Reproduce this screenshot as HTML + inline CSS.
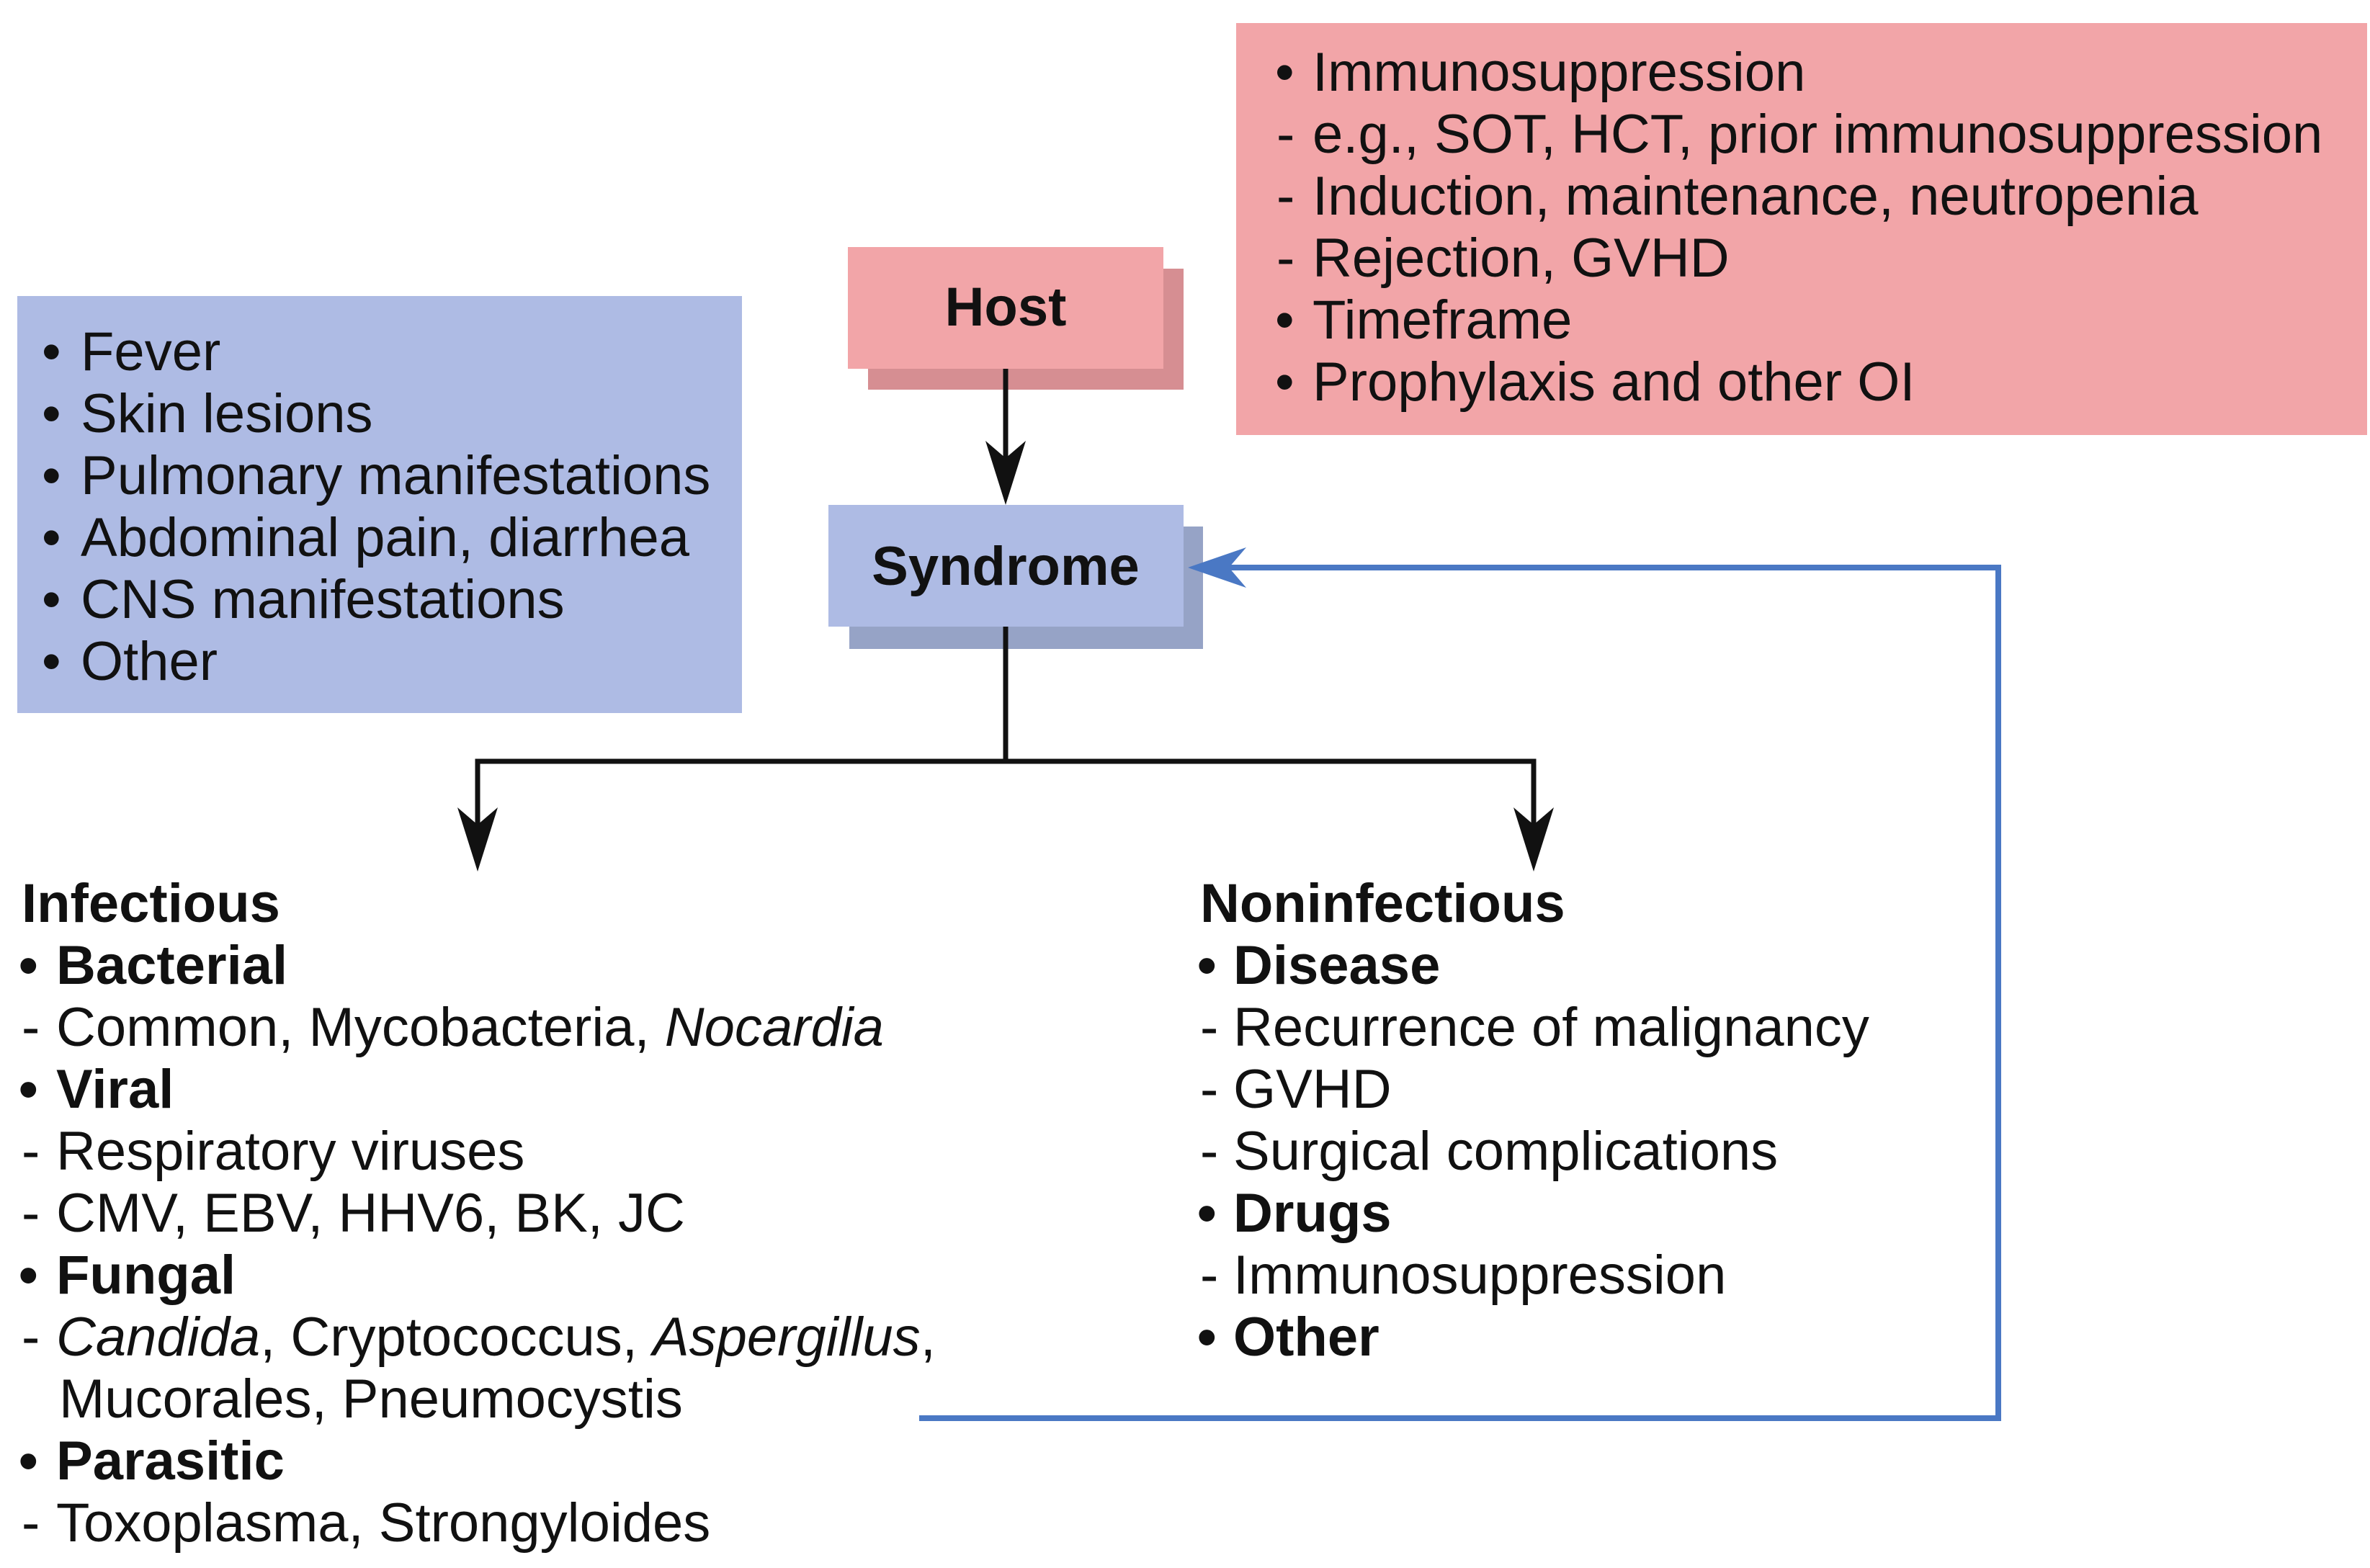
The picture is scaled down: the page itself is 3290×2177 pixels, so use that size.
<!DOCTYPE html>
<html><head><meta charset="utf-8"><style>
html,body{margin:0;padding:0;background:#fff;}
svg{display:block;}
text{font-family:"Liberation Sans",Arial,sans-serif;font-size:76px;fill:#111;}
.b{font-weight:bold;}
</style></head><body>
<svg width="3290" height="2177" viewBox="0 0 3290 2177" xmlns="http://www.w3.org/2000/svg">
<rect x="1716" y="32" width="1570" height="572" fill="#f2a5a8"/>
<rect x="24" y="411" width="1006" height="579" fill="#aebbe4"/>
<rect x="1205" y="373" width="438" height="168" fill="#d68e92"/>
<rect x="1177" y="343" width="438" height="169" fill="#f2a5a8"/>
<text x="1396" y="452" text-anchor="middle" class="b">Host</text>
<rect x="1179" y="731" width="491" height="170" fill="#96a3c6"/>
<rect x="1150" y="701" width="493" height="169" fill="#aebbe4"/>
<text x="1396" y="812" text-anchor="middle" class="b">Syndrome</text>

<g stroke="#111" stroke-width="7" fill="none">
<line x1="1396" y1="512" x2="1396" y2="640"/>
<line x1="1396" y1="870" x2="1396" y2="1057"/>
<polyline points="663,1147 663,1057 2129,1057 2129,1147"/>
</g>
<g fill="#111">
<path d="M1396,701 L1368,612 L1396,636 L1424,612 Z"/>
<path d="M663,1210 L635,1121 L663,1145 L691,1121 Z"/>
<path d="M2129,1210 L2101,1121 L2129,1145 L2157,1121 Z"/>
</g>
<polyline points="1276,1969 2774,1969 2774,788 1700,788" stroke="#4a78c4" stroke-width="8" fill="none"/>
<path d="M1649,788 L1730,760 L1706,788 L1730,816 Z" fill="#4a78c4"/>

<g>
<text x="58" y="514">•</text><text x="112" y="514">Fever</text>
<text x="58" y="600">•</text><text x="112" y="600">Skin lesions</text>
<text x="58" y="686">•</text><text x="112" y="686">Pulmonary manifestations</text>
<text x="58" y="772">•</text><text x="112" y="772">Abdominal pain, diarrhea</text>
<text x="58" y="858">•</text><text x="112" y="858">CNS manifestations</text>
<text x="58" y="944">•</text><text x="112" y="944">Other</text>
</g>
<g>
<text x="1770" y="126">•</text><text x="1822" y="126">Immunosuppression</text>
<text x="1772" y="212">-</text><text x="1822" y="212">e.g., SOT, HCT, prior immunosuppression</text>
<text x="1772" y="298">-</text><text x="1822" y="298">Induction, maintenance, neutropenia</text>
<text x="1772" y="384">-</text><text x="1822" y="384">Rejection, GVHD</text>
<text x="1770" y="470">•</text><text x="1822" y="470">Timeframe</text>
<text x="1770" y="556">•</text><text x="1822" y="556">Prophylaxis and other OI</text>
</g>
<g>
<text x="30" y="1280" class="b">Infectious</text>
<text x="26" y="1366" class="b">•</text><text x="78" y="1366" class="b">Bacterial</text>
<text x="30" y="1452">-</text><text x="78" y="1452">Common, Mycobacteria, <tspan font-style="italic">Nocardia</tspan></text>
<text x="26" y="1538" class="b">•</text><text x="78" y="1538" class="b">Viral</text>
<text x="30" y="1624">-</text><text x="78" y="1624">Respiratory viruses</text>
<text x="30" y="1710">-</text><text x="78" y="1710">CMV, EBV, HHV6, BK, JC</text>
<text x="26" y="1796" class="b">•</text><text x="78" y="1796" class="b">Fungal</text>
<text x="30" y="1882">-</text><text x="78" y="1882"><tspan font-style="italic">Candida</tspan>, Cryptococcus, <tspan font-style="italic">Aspergillus</tspan>,</text>
<text x="82" y="1968">Mucorales, Pneumocystis</text>
<text x="26" y="2054" class="b">•</text><text x="78" y="2054" class="b">Parasitic</text>
<text x="30" y="2140">-</text><text x="78" y="2140">Toxoplasma, Strongyloides</text>
</g>
<g>
<text x="1666" y="1280" class="b">Noninfectious</text>
<text x="1662" y="1366" class="b">•</text><text x="1712" y="1366" class="b">Disease</text>
<text x="1666" y="1452">-</text><text x="1712" y="1452">Recurrence of malignancy</text>
<text x="1666" y="1538">-</text><text x="1712" y="1538">GVHD</text>
<text x="1666" y="1624">-</text><text x="1712" y="1624">Surgical complications</text>
<text x="1662" y="1710" class="b">•</text><text x="1712" y="1710" class="b">Drugs</text>
<text x="1666" y="1796">-</text><text x="1712" y="1796">Immunosuppression</text>
<text x="1662" y="1882" class="b">•</text><text x="1712" y="1882" class="b">Other</text>
</g>
</svg>
</body></html>
